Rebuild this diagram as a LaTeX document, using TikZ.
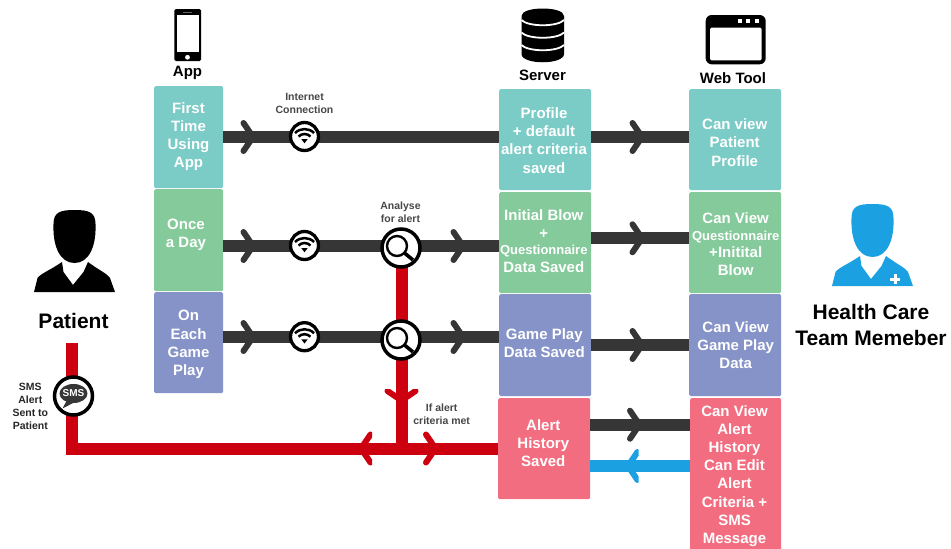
\documentclass[tikz,border=0pt]{standalone}
\usepackage{fontspec}
\setmainfont{Liberation Sans}
\usetikzlibrary{calc}
\definecolor{teal1}{HTML}{7BCBC6}
\definecolor{green1}{HTML}{85CA9B}
\definecolor{blue1}{HTML}{8593C8}
\definecolor{red1}{HTML}{F36D80}
\definecolor{dark1}{HTML}{363636}
\definecolor{red2}{HTML}{CC000F}
\definecolor{sky1}{HTML}{1BA1E2}
\tikzset{
 x=1pt,y=-1pt,
 box/.style={rounded corners=1.5pt,inner sep=0,anchor=north west},
 boxtext/.style={text=white,font=\bfseries\fontsize{15}{18.2}\selectfont,align=center,inner sep=0},
 tealbox/.style={box,fill=teal1},
 greenbox/.style={box,fill=green1},
 bluebox/.style={box,fill=blue1},
 redbox/.style={box,fill=red1},
 darkline/.style={draw=dark1,line width=12pt},
 redline/.style={draw=red2,line width=12pt},
 skyline/.style={draw=sky1,line width=12pt},
 pics/chev/.style={code={\draw[line width=6pt,line cap=round,line join=miter,draw=#1] (-9.5,-14)--(0,0)--(-9.5,14);}},
 pics/chev/.default=dark1,
 badge/.style={circle,draw=black,fill=white,line width=3.3pt,inner sep=0},
 captext/.style={font=\bfseries\fontsize{15}{18}\selectfont,inner sep=0},
 smalltext/.style={font=\bfseries\fontsize{10.5}{13}\selectfont,text=#1,align=center,inner sep=0},
 smalltext/.default=black!72,
 bigtext/.style={font=\bfseries\fontsize{21}{25.5}\selectfont,align=center,inner sep=0},
 pics/wifi/.style={code={
   \draw[black,line width=2.5pt,line cap=butt] (-9.5,-3.5) arc[start angle=-135,end angle=-45,radius=13.5];
   \draw[black,line width=2.5pt,line cap=butt] (-6,0) arc[start angle=-135,end angle=-45,radius=8.5];
   \fill[black] (-3.2,2.6)--(3.2,2.6)--(0,6.8)--cycle;
 }},
 pics/lens/.style={code={
   \draw[black,line width=2.4pt] (-4,-2) circle[radius=10];
   \draw[black,line width=3.6pt] (3.5,5)--(12,12);
 }},
 pics/person/.style={code={
   \fill[#1] (-21,-38) .. controls (-21,-50) and (-14,-52) .. (0,-52) .. controls (14,-52) and (21,-50) .. (21,-38)
     .. controls (22,-15) and (14,1) .. (0,1) .. controls (-14,1) and (-22,-15) .. (-21,-38) -- cycle;
   \fill[#1] (-40.5,30) -- (-37,16) .. controls (-33,11) and (-24,8) .. (-12.5,0) -- (-11,10) -- (-1.5,23) -- (9,10) -- (13.5,0) .. controls (24,8) and (32,11) .. (35.5,16) -- (40.5,30) -- cycle;
 }},
}
\begin{document}
\begin{tikzpicture}
\useasboundingbox (0,0) rectangle (951,549);

% boxes: app column
\node[tealbox,minimum width=69pt,minimum height=102pt] (a1) at (154,86) {};
\node[greenbox,minimum width=69pt,minimum height=102pt] (a2) at (154,189) {};
\node[bluebox,minimum width=69pt,minimum height=101pt] (a3) at (154,292) {};
% server column
\node[tealbox,minimum width=92pt,minimum height=101pt] (s1) at (499,89) {};
\node[greenbox,minimum width=92pt,minimum height=101pt] (s2) at (499,192) {};
\node[bluebox,minimum width=92pt,minimum height=102pt] (s3) at (499,294) {};
\node[redbox,minimum width=92pt,minimum height=101pt] (s4) at (498,398) {};
% web column
\node[tealbox,minimum width=92pt,minimum height=101pt] (w1) at (689,89) {};
\node[greenbox,minimum width=92pt,minimum height=101pt] (w2) at (689,192) {};
\node[bluebox,minimum width=92pt,minimum height=102pt] (w3) at (689,294) {};
\node[redbox,minimum width=91pt,minimum height=155pt] (w4) at (690,398) {};

% box texts
\node[boxtext] (a1t) at (188.5,136.5) {First\\Time\\Using\\App};
\node[boxtext] (a2t) at (186,235) {Once\\a Day};
\node[boxtext] (a3t) at (188.5,344.5) {On\\Each\\Game\\Play};
\node[boxtext] (s1t) at (544,140.5) {Profile\\+ default\\alert criteria\\saved};
\node[boxtext] (s2t) at (543.8,241) {Initial Blow\\+\\[-2pt]{\fontsize{13}{18}\selectfont Questionnaire}\\Data Saved};
\node[boxtext] (s3t) at (544.3,343.5) {Game Play\\Data Saved};
\node[boxtext] (s4t) at (543.3,443) {Alert\\History\\Saved};
\node[boxtext] (w1t) at (734.7,142.5) {Can view\\Patient\\Profile};
\node[boxtext] (w2t) at (735.7,244) {Can View\\[-1pt]{\fontsize{13}{18}\selectfont Questionnaire}\\[-1pt]+Initital\\Blow};
\node[boxtext] (w3t) at (735.7,345) {Can View\\Game Play\\Data};
\node[boxtext] (w4t) at (734.5,476) {Can View\\Alert\\History\\Can Edit\\Alert\\Criteria +\\SMS\\Message};

% badges
\coordinate (wf1) at (304.5,136.5);
\coordinate (wf2) at (304.5,245.5);
\coordinate (wf3) at (304.5,336.7);
\coordinate (mg2) at (401,248);
\coordinate (mg3) at (401,340);
\coordinate (smsc) at (73.5,396);
\coordinate (patient) at (72,343.3);
\coordinate (corner) at (72,448.5);
\coordinate (join) at (401.5,448.5);
\coordinate (dn) at (401.5,248);

% dark connectors
\draw[darkline] (a1.east |- wf1) -- (wf1);
\draw[darkline] (wf1) -- (s1.west |- wf1);
\draw[darkline] (a2.east |- wf2) -- (wf2);
\draw[darkline] (wf2) -- (s2.west |- wf2);
\draw[darkline] (a3.east |- wf3) -- (wf3);
\draw[darkline] (wf3) -- (s3.west |- wf3);
\draw[darkline] (s1.east |- 0,137) -- (w1.west |- 0,137);
\draw[darkline] (s2.east |- 0,238.3) -- (w2.west |- 0,238.3);
\draw[darkline] (s3.east |- 0,345) -- (w3.west |- 0,345);
\draw[darkline] (s4.east |- 0,424.7) -- (w4.west |- 0,424.7);
\draw[skyline] (w4.west |- 0,466) -- (s4.east |- 0,466);

% red connectors
\draw[redline,line cap=butt,line join=miter] (patient) -- (corner) -- (s4.west |- corner);
\draw[redline] (dn) -- (join);

% chevrons
\foreach \p in {(253,137),(253,246),(253,337),(463,246),(463,337),(642,137),(642,238.3),(642,345),(639.5,424.7)}
  \pic at \p {chev};
\begin{scope}
\clip (350,425) rectangle (372,465.5);
\pic[xscale=-1] at (361,448.5) {chev={red2}};
\end{scope}
\begin{scope}
\clip (420,425) rectangle (450,465.5);
\pic at (435.5,448.5) {chev={red2}};
\end{scope}
\begin{scope}
\clip (380,389.5) rectangle (425,410);
\pic[rotate=-90] at (401.5,400.5) {chev={red2}};
\end{scope}
\begin{scope}
\clip (620,440) rectangle (638.5,490);
\pic[xscale=-1] at (628,466) {chev={sky1}};
\end{scope}

% wifi badges
\foreach \n in {1,2,3} {
  \node[badge,minimum size=28pt] (wn\n) at (wf\n) {};
  \pic at (wf\n) {wifi};
}
% magnifier badges
\foreach \n in {2,3} {
  \node[badge,line width=3.5pt,minimum size=38pt] (mn\n) at (mg\n) {};
  \pic at (mg\n) {lens};
}
% sms badge
\node[badge,line width=3.5pt,minimum size=38pt] (smsb) at (smsc) {};
\fill[dark1] (73.5,393.5) ellipse[x radius=14,y radius=9.5];
\fill[dark1] (67,400) -- (62.5,408.5) -- (75,402) -- cycle;
\node[font=\bfseries\fontsize{10}{10}\selectfont,text=white,inner sep=0] (smst) at (73.5,393.5) {SMS};

% small labels
\node[smalltext] (l1) at (304.5,103) {Internet\\Connection};
\node[smalltext] (l2) at (400.5,212) {Analyse\\for alert};
\node[smalltext] (l3) at (441.7,414.5) {If alert\\criteria met};
\node[smalltext=black!85] (l4) at (30.3,406) {SMS\\Alert\\Sent to\\Patient};

% column captions
\node[captext] (cApp) at (187.5,72.5) {App};
\node[captext] (cSrv) at (542.5,75) {Server};
\node[captext] (cWeb) at (733,78.5) {Web Tool};
\node[bigtext] (patientl) at (73.5,320.5) {Patient};
\node[bigtext] (hctl) at (871,325) {Health Care\\Team Memeber};

% phone icon
\fill[black,rounded corners=1.5pt] (174.3,9) rectangle (201,61);
\fill[white] (176.7,14.7) rectangle (199,51.7);
\fill[white] (187.5,57.3) circle[radius=2.4];
\fill[black!60] (183,12) rectangle (192,13.3);

% database icon
\fill[black] (521.5,16) .. controls (521.5,6) and (564,6) .. (564,16) -- (564,54) .. controls (564,65) and (521.5,65) .. (521.5,54) -- cycle;
\foreach \y in {20,32.5,45}
 \draw[white,line width=1.8pt] (521.5,\y) .. controls (528,\y+7) and (557.5,\y+7) .. (564,\y);

% web window icon
\fill[black,rounded corners=6pt] (705.7,15) rectangle (765.7,64.3);
\fill[white,rounded corners=1.5pt] (710,27.7) rectangle (761.7,60.3);
\foreach \x in {740,747.7,756.7} \fill[white] (\x-2,19) rectangle (\x+2,23);

% persons
\pic at (74.5,262) {person=black};
\pic at (872.5,256) {person=sky1};
\fill[white] (893.5,274) rectangle (896.5,284);
\fill[white] (890,277.5) rectangle (900,280.5);
\end{tikzpicture}
\end{document}
